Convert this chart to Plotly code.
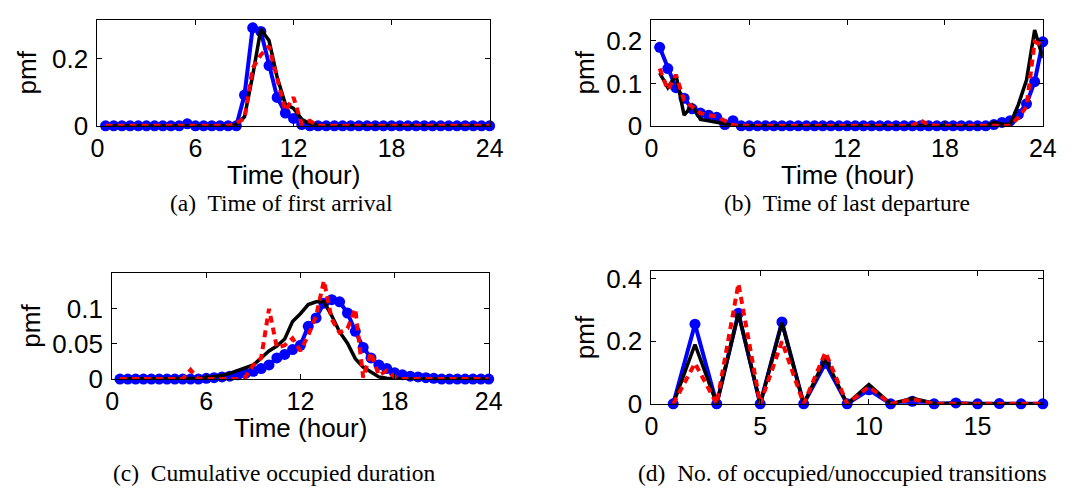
import plotly.graph_objects as go

# ---------------- data ----------------
hours = [0.5, 1.0, 1.5, 2.0, 2.5, 3.0, 3.5, 4.0, 4.5, 5.0, 5.5, 6.0,
         6.5, 7.0, 7.5, 8.0, 8.5, 9.0, 9.5, 10.0, 10.5, 11.0, 11.5, 12.0,
         12.5, 13.0, 13.5, 14.0, 14.5, 15.0, 15.5, 16.0, 16.5, 17.0, 17.5, 18.0,
         18.5, 19.0, 19.5, 20.0, 20.5, 21.0, 21.5, 22.0, 22.5, 23.0, 23.5, 24.0]

# (a) Time of first arrival
a_blue = [0, 0, 0, 0, 0, 0, 0, 0, 0, 0, 0.006, 0,
          0, 0, 0, 0, 0, 0.092, 0.293, 0.282, 0.18, 0.085, 0.038, 0.022,
          0.004, 0, 0, 0, 0, 0, 0, 0, 0, 0, 0, 0,
          0, 0, 0, 0, 0, 0, 0, 0, 0, 0, 0, 0]
a_black = [0, 0, 0, 0, 0, 0, 0, 0, 0, 0, 0, 0,
           0, 0, 0, 0, 0.003, 0.027, 0.15, 0.289, 0.255, 0.145, 0.065, 0.052,
           0.02, 0.006, 0.002, 0, 0, 0, 0, 0, 0, 0, 0, 0,
           0, 0, 0, 0, 0, 0, 0, 0, 0, 0, 0, 0]
a_red = [0, 0, 0, 0, 0, 0, 0, 0, 0, 0, 0, 0,
         0, 0, 0, 0, 0.008, 0.022, 0.172, 0.212, 0.238, 0.14, 0.045, 0.085,
         0.005, 0.015, 0, 0, 0, 0, 0, 0, 0, 0, 0, 0,
         0, 0, 0, 0, 0, 0, 0, 0, 0, 0, 0, 0]

# (b) Time of last departure
b_blue = [0.185, 0.135, 0.09, 0.065, 0.04, 0.03, 0.025, 0.02, 0.003, 0.012, 0, 0,
          0, 0, 0, 0, 0, 0, 0, 0, 0, 0, 0, 0,
          0, 0, 0, 0, 0, 0, 0, 0, 0, 0, 0, 0,
          0, 0, 0, 0, 0, 0.003, 0.008, 0.012, 0.027, 0.052, 0.104, 0.198]
b_black = [0.125, 0.09, 0.12, 0.025, 0.048, 0.015, 0.012, 0.008, 0.004, 0.001, 0, 0,
           0, 0, 0, 0, 0, 0, 0, 0, 0, 0, 0, 0,
           0, 0, 0, 0, 0, 0, 0, 0, 0, 0, 0, 0,
           0, 0, 0, 0, 0, 0.008, 0.004, 0.004, 0.05, 0.108, 0.226, 0.16]
b_red = [0.135, 0.085, 0.12, 0.06, 0.045, 0.03, 0.025, 0.022, 0.012, 0.002, 0, 0,
         0, 0, 0, 0, 0, 0, 0, 0, 0, 0, 0, 0,
         0, 0, 0, 0, 0, 0, 0, 0, 0.013, 0.002, 0, 0,
         0, 0, 0, 0, 0, 0, 0, 0, 0.02, 0.045, 0.198, 0.19]

# (c) Cumulative occupied duration
c_blue = [0, 0, 0, 0, 0, 0, 0, 0, 0, 0, 0, 0.001,
          0.002, 0.003, 0.004, 0.006, 0.008, 0.011, 0.015, 0.02, 0.03, 0.035, 0.042, 0.048,
          0.075, 0.087, 0.108, 0.113, 0.11, 0.094, 0.068, 0.045, 0.03, 0.02, 0.015, 0.009,
          0.006, 0.004, 0.003, 0.002, 0.001, 0, 0, 0, 0, 0, 0, 0]
c_black = [0, 0, 0, 0, 0, 0, 0, 0, 0, 0.0005, 0.001, 0.002,
           0.003, 0.005, 0.008, 0.012, 0.016, 0.02, 0.03, 0.04, 0.047, 0.057, 0.082, 0.093,
           0.106, 0.11, 0.11, 0.09, 0.067, 0.051, 0.029, 0.017, 0.01, 0.003, 0.001, 0,
           0, 0, 0, 0, 0, 0, 0, 0, 0, 0, 0, 0]
c_red = [0, 0, 0, 0, 0, 0, 0, 0, 0, 0.013, 0, 0,
         0, 0, 0, 0, 0.003, 0.02, 0.03, 0.1, 0.045, 0.048, 0.058, 0.04,
         0.062, 0.09, 0.14, 0.085, 0.066, 0.072, 0.1, 0.002, 0.038, 0.005, 0.012, 0.003,
         0, 0, 0, 0, 0, 0, 0, 0, 0, 0, 0, 0]

# (d) No. of occupied/unoccupied transitions
transitions = [1, 2, 3, 4, 5, 6, 7, 8, 9, 10, 11, 12, 13, 14, 15, 16, 17, 18]
d_blue = [0, 0.255, 0, 0.29, 0, 0.262, 0, 0.13, 0, 0.045, 0, 0.008, 0, 0.003, 0, 0.001, 0, 0]
d_black = [0, 0.19, 0, 0.29, 0, 0.26, 0, 0.145, 0, 0.062, 0, 0.018, 0.002, 0, 0, 0, 0, 0]
d_red = [0, 0.13, 0, 0.385, 0, 0.2, 0, 0.165, 0, 0.055, 0, 0.015, 0, 0, 0, 0, 0, 0]

captions = ["(a)  Time of first arrival", "(b)  Time of last departure",
            "(c)  Cumulative occupied duration", "(d)  No. of occupied/unoccupied transitions"]
xtitles = ["Time (hour)", "Time (hour)", "Time (hour)", ""]

# ---------------- layout helpers ----------------
W, H = 1090, 494


def px_x(x):
    return x / W


def px_y(y):
    return 1 - y / H


panels = [
    # (x0, x1, ytop, ybottom)
    (84, 484, 5, 116),
    (649, 1048, 5, 116),
    (99, 483, 270, 381),
    (649, 1048, 268, 407),
]

series = [
    (hours, a_blue, a_black, a_red),
    (hours, b_blue, b_black, b_red),
    (hours, c_blue, c_black, c_red),
    (transitions, d_blue, d_black, d_red),
]

yranges = [[0, 0.317], [0, 0.25], [0, 0.151], [0, 0.425]]
ytickvals = [[0, 0.2], [0, 0.1, 0.2], [0, 0.05, 0.1], [0, 0.2, 0.4]]
yticktext = [["0", "0.2"], ["0", "0.1", "0.2"], ["0", "0.05", "0.1"], ["0", "0.2", "0.4"]]
xranges = [[0, 24], [0, 24], [0, 24], [0, 18]]
xtickvals = [[0, 6, 12, 18, 24]] * 3 + [[0, 5, 10, 15]]
pmf_standoff = [7, 4, 4, 4]

fig = go.Figure()
TICKFONT = dict(family="Liberation Sans, Arial, sans-serif", size=25, color="black")
YTICKFONT = dict(family="Liberation Sans, Arial, sans-serif", size=26, color="black")
TITLEFONT = dict(family="Liberation Sans, Arial, sans-serif", size=26, color="black")

for i, ((x0, x1, yt, yb), (xs, blue, black, red)) in enumerate(zip(panels, series)):
    n = "" if i == 0 else str(i + 1)
    xa, ya = "x" + n, "y" + n
    fig.add_trace(go.Scatter(x=xs, y=blue, xaxis=xa, yaxis=ya, mode="lines+markers",
                             line=dict(color="#0000ff", width=4),
                             marker=dict(color="#0000ff", size=11, symbol="circle"),
                             showlegend=False, cliponaxis=False))
    fig.add_trace(go.Scatter(x=xs, y=black, xaxis=xa, yaxis=ya, mode="lines",
                             line=dict(color="black", width=3.5),
                             showlegend=False, cliponaxis=False))
    fig.add_trace(go.Scatter(x=xs, y=red, xaxis=xa, yaxis=ya, mode="lines",
                             line=dict(color="#ff0000", width=4, dash="7px,5px"),
                             showlegend=False, cliponaxis=False))
    axis_common = dict(showline=True, linecolor="black", linewidth=1, mirror="ticks",
                       ticks="inside", ticklen=5, tickwidth=1, tickcolor="black",
                       showgrid=False, zeroline=False)
    fig.layout["xaxis" + n] = dict(
        domain=[px_x(x0), px_x(x1)], anchor=ya, range=xranges[i],
        tickvals=xtickvals[i], ticktext=[str(v) for v in xtickvals[i]],
        tickfont=TICKFONT,
        **axis_common)
    fig.layout["yaxis" + n] = dict(
        domain=[px_y(yb), px_y(yt)], anchor=xa, range=yranges[i],
        tickvals=ytickvals[i], ticktext=yticktext[i], ticklabelstandoff=3,
        tickfont=YTICKFONT,
        title=dict(text="pmf", font=TITLEFONT, standoff=pmf_standoff[i]),
        **axis_common)
    if xtitles[i]:
        fig.add_annotation(x=px_x((x0 + x1) / 2), y=px_y(yb + 51), xref="paper", yref="paper",
                           text=xtitles[i], showarrow=False, xanchor="center",
                           yanchor="middle", font=TITLEFONT)

cap_pos = [(272, 197), (848, 197), (265, 479), (844, 479)]
for (cx, cy), txt in zip(cap_pos, captions):
    fig.add_annotation(x=px_x(cx), y=px_y(cy), xref="paper", yref="paper",
                       text=txt, showarrow=False, xanchor="center", yanchor="middle",
                       font=dict(family="Liberation Serif, Times New Roman, serif", size=23.5,
                                 color="black"))

fig.update_layout(width=W, height=H, margin=dict(l=0, r=0, t=0, b=0),
                  paper_bgcolor="white", plot_bgcolor="white")

fig.write_html("out.html")
